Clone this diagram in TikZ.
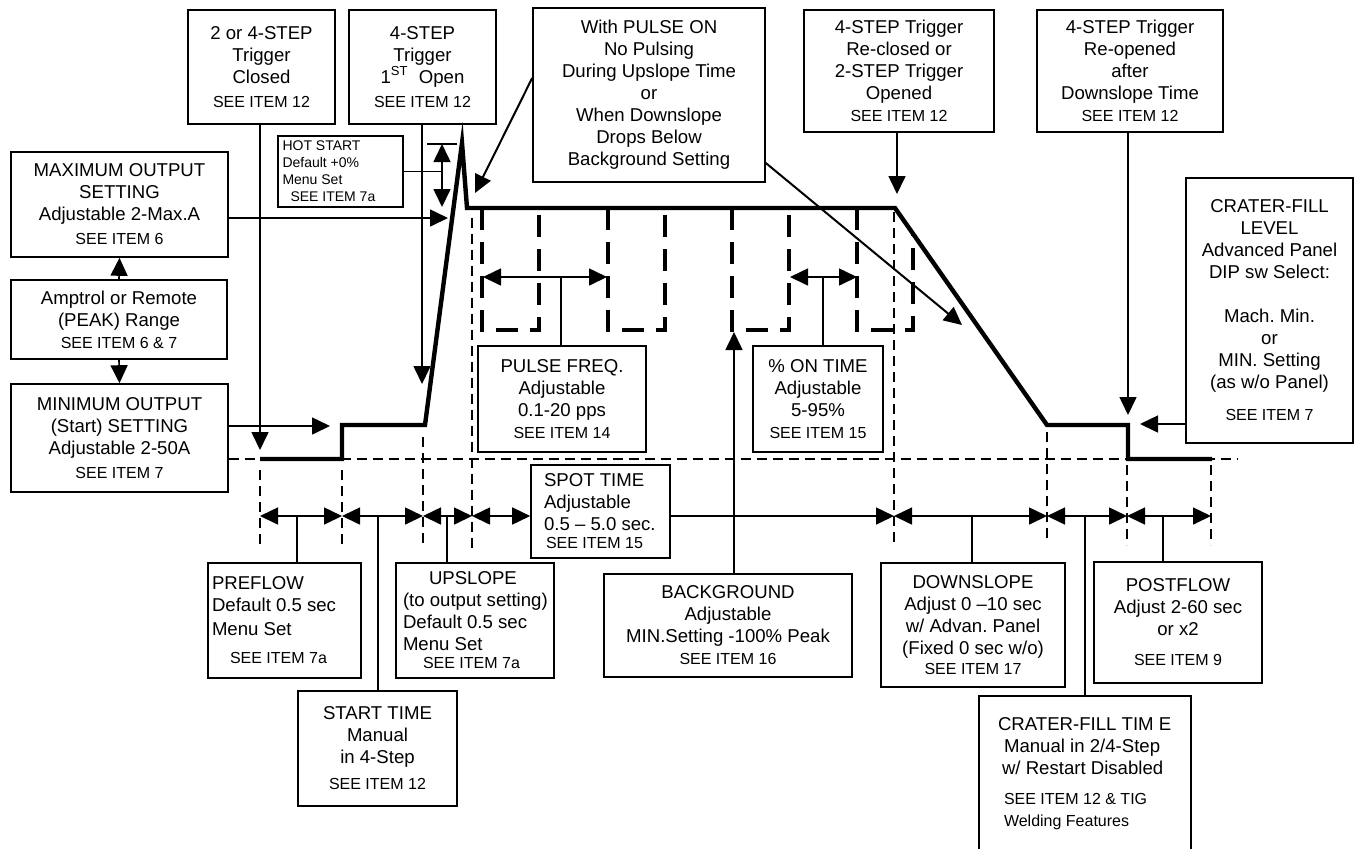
\documentclass[tikz,border=0pt]{standalone}
\usepackage{fontspec}
\setmainfont{Liberation Sans}
\usetikzlibrary{arrows.meta, calc}
\frenchspacing
\newcommand\seeitem[1]{{\fontsize{8}{9.5}\selectfont SEE ITEM #1}}
\tikzset{
  every picture/.style={line width=0.8pt},
  lbl/.style 2 args={draw, minimum width=#1, minimum height=#2, inner sep=2pt, align=center, font=\fontsize{9.3}{11}\selectfont},
  arr/.style={-{Triangle[length=9pt, width=8.5pt]}},
  darr/.style={{Triangle[length=9pt, width=8.5pt]}-{Triangle[length=9pt, width=8.5pt]}},
  wave/.style={line width=2.2pt},
  pulse/.style={line width=1.8pt, dash pattern=on 11pt off 6pt},
  guide/.style={line width=0.6pt, dash pattern=on 5pt off 3pt},
}

\begin{document}
\begin{tikzpicture}[x=0.5pt, y=-0.5pt]
  \useasboundingbox (0,0) rectangle (1354,848);
  % boxes along the top and the left
  \node[lbl={73.5pt}{57pt}] (trigA) at (261.5,67) {2 or 4-STEP\\Trigger\\Closed\\[1pt]\seeitem{12}};
  \node[lbl={73.5pt}{57pt}] (trigB) at (422.5,67) {4-STEP\\Trigger\\1\textsuperscript{ST}\ \ Open\\[1pt]\seeitem{12}};
  \node[lbl={62.5pt}{35.5pt}, align=flush left, text width=58pt, font=\fontsize{7}{8.5}\selectfont] (hot) at (340.5,171.5) {HOT START\\Default +0\%\\Menu Set\\\hspace*{4pt}SEE ITEM 7a};
  \node[lbl={116pt}{87pt}] (pulseon) at (649,95) {With PULSE ON\\No Pulsing\\During Upslope Time\\or\\When Downslope\\Drops Below\\Background Setting};
  \node[lbl={95pt}{61pt}] (trigC) at (899,71) {4-STEP Trigger\\Re-closed or\\2-STEP Trigger\\Opened\\\seeitem{12}};
  \node[lbl={93pt}{61pt}] (trigD) at (1130,71) {4-STEP Trigger\\Re-opened\\after\\Downslope Time\\\seeitem{12}};
  \node[lbl={108.5pt}{52.5pt}] (maxout) at (119.5,204.5) {MAXIMUM OUTPUT\\SETTING\\Adjustable 2-Max.A\\[1pt]\seeitem{6}};
  \node[lbl={108pt}{39.5pt}] (amptrol) at (119,319.5) {Amptrol or Remote\\(PEAK) Range\\\seeitem{6 \& 7}};
  \node[lbl={108.5pt}{54pt}] (minout) at (119.5,438) {MINIMUM OUTPUT\\(Start) SETTING\\Adjustable 2-50A\\[1pt]\seeitem{7}};
  \node[lbl={83.5pt}{132.5pt}] (crlevel) at (1269.5,310.5) {CRATER-FILL\\LEVEL\\Advanced Panel\\DIP sw Select:\\[11pt]Mach. Min.\\or\\MIN. Setting\\(as w/o Panel)\\[5pt]\seeitem{7}};
  \node[lbl={84pt}{53pt}] (pfreq) at (562,399) {PULSE FREQ.\\Adjustable\\0.1-20 pps\\\seeitem{14}};
  \node[lbl={65pt}{53pt}] (ontime) at (818,399) {\% ON TIME\\Adjustable\\5-95\%\\\seeitem{15}};
  % boxes below the time line
  \node[lbl={69.5pt}{46.5pt}, align=flush left, inner xsep=6.5pt, text width=56.5pt] (spot) at (600.5,511.5) {SPOT TIME\\Adjustable\\\mbox{0.5 – 5.0 sec.}\\[-2pt]\hspace*{1pt}\seeitem{15}};
  \node[lbl={76.5pt}{57.5pt}, align=flush left, text width=72.5pt] (preflow) at (284.5,620.5) {PREFLOW\\Default 0.5 sec\\[1pt]Menu Set\\[3pt]\hspace*{9pt}\seeitem{7a}};
  \node[lbl={79.5pt}{57.5pt}] (starttime) at (377.5,748.5) {START TIME\\Manual\\in 4-Step\\[2pt]\seeitem{12}};
  \node[lbl={79pt}{57.5pt}, align=flush left, inner xsep=3.5pt, text width=72pt] (upslope) at (475,620.5) {\hspace*{13pt}UPSLOPE\\\mbox{(to output setting)}\\Default 0.5 sec\\Menu Set\\[-2pt]\hspace*{10pt}\seeitem{7a}};
  \node[lbl={124pt}{51.5pt}] (bground) at (728,625.5) {BACKGROUND\\Adjustable\\MIN.Setting -100\% Peak\\\seeitem{16}};
  \node[lbl={92pt}{62pt}] (downslope) at (973,625) {DOWNSLOPE\\Adjust 0 –10 sec\\w/ Advan. Panel\\(Fixed 0 sec w/o)\\[-1pt]\seeitem{17}};
  \node[lbl={106pt}{78pt}, align=flush left, inner xsep=9.5pt, text width=87pt] (crtime) at (1085,774) {\mbox{CRATER-FILL TIM E}\\\hspace*{3pt}Manual in 2/4-Step\\\hspace*{2pt}\mbox{w/ Restart Disabled}\\[4pt]\hspace*{3pt}\seeitem{12 \& TIG}\\\hspace*{3pt}{\fontsize{8}{9.5}\selectfont Welding Features}\\[12pt]};
  \node[lbl={84pt}{60.5pt}] (postflow) at (1178,622.5) {POSTFLOW\\Adjust 2-60 sec\\or x2\\[4pt]\seeitem{9}};

  % points of the output curve
  \coordinate (w0) at (260,459);
  \coordinate (w1) at (342,459);
  \coordinate (w2) at (342,425);
  \coordinate (w3) at (425,425);
  \coordinate (pk) at (462,143);
  \coordinate (w4) at (467,208);
  \coordinate (w5) at (895,208);
  \coordinate (w6) at (1047,425);
  \coordinate (w7) at (1128,425);
  \coordinate (w8) at (1128,459);
  \coordinate (w9) at (1212,459);
  \coordinate (gE) at (1238,459);

  % guide lines
  \draw[guide] (minout.east |- w0) -- (gE);
  \foreach \x/\t/\b in {260/470/548, 342/470/548, 423/437/548, 472/218/548, 894/212/545, 1047/432/540, 1127/465/545, 1211/465/545}
    \draw[guide] (\x,\t) -- (\x,\b);

  % pulses
  \foreach \a/\b in {482/539, 608/665, 732/789}
    \draw[pulse] (\a,208) -- (\a,330) -- (\b,330) -- (\b,208);
  \draw[pulse] (857,208) -- (857,330) -- (913,330) -- (913,234);

  \draw[wave] (w0) -- (w1) -- (w2) -- (w3) -- (pk) -- (w4) -- (w5) -- (w6) -- (w7) -- (w8) -- (w9);

  % arrows from the boxes to the curve
  \coordinate (tA) at (260,450);
  \coordinate (tB) at (422,384);
  \coordinate (tC) at (897,194);
  \coordinate (tD) at (1128,415);
  \coordinate (tMax) at (448,218);
  \coordinate (tMin) at (330,426);
  \coordinate (tCL) at (1140,424);
  \coordinate (tP1) at (475,193);
  \coordinate (tP2) at (962,325);
  \draw[arr] (trigA.south -| tA) -- (tA);
  \draw[arr] (trigB.south -| tB) -- (tB);
  \draw[arr] (trigC.south -| tC) -- (tC);
  \draw[arr] (trigD.south -| tD) -- (tD);
  \draw[arr] (maxout.east |- tMax) -- (tMax);
  \draw[arr] (minout.east |- tMin) -- (tMin);
  \draw[arr] (amptrol.north) -- (maxout.south);
  \draw[arr] (amptrol.south) -- (minout.north);
  \draw[arr] (crlevel.west |- tCL) -- (tCL);
  \draw[arr, line width=1pt] ([yshift=8.5pt]pulseon.west) -- (tP1);
  \draw[arr, line width=1pt] ([yshift=-34pt]pulseon.east) -- (tP2);

  % hot start
  \coordinate (hb) at (442,144);
  \coordinate (hbot) at (442,207);
  \draw[darr] (hb) -- (hbot);
  \draw ([xshift=-7.5pt]hb) -- ([xshift=7.5pt]hb);
  \draw (hot.east) -- (hot.east -| hb);

  % pulse width arrows
  \coordinate (pfa) at (483,277);
  \coordinate (pfb) at (607,277);
  \coordinate (pfc) at (561,277);
  \coordinate (ota) at (790,277);
  \coordinate (otb) at (857,277);
  \coordinate (otc) at (823,277);
  \draw[darr] (pfa) -- (pfb);
  \draw[darr] (ota) -- (otb);
  \draw (pfc) -- (pfc |- pfreq.north);
  \draw (otc) -- (otc |- ontime.north);
  \coordinate (bgt) at (734,332);
  \draw[arr] (bgt |- bground.north) -- (bgt);

  % time line
  \foreach \n/\x in {0/260, 1/342, 2/423, 3/472, 4/894, 5/1047, 6/1127, 7/1211}
    \coordinate (d\n) at (\x,516);
  \draw[darr] (d0) -- (d1);
  \draw[darr] (d1) -- (d2);
  \draw[darr] (d2) -- (d3);
  \draw[darr] (d3) -- (d3 -| spot.west);
  \draw[arr] (d3 -| spot.east) -- (d4);
  \draw[darr] (d4) -- (d5);
  \draw[darr] (d5) -- (d6);
  \draw[darr] (d6) -- (d7);
  \coordinate (cpre) at (297,516);
  \coordinate (cst) at (378,516);
  \coordinate (cup) at (447,516);
  \coordinate (cdn) at (972,516);
  \coordinate (ccr) at (1085,516);
  \coordinate (cpo) at (1163,516);
  \draw (cpre) -- (cpre |- preflow.north);
  \draw (cst) -- (cst |- starttime.north);
  \draw (cup) -- (cup |- upslope.north);
  \draw (cdn) -- (cdn |- downslope.north);
  \draw (ccr) -- (ccr |- crtime.north);
  \draw (cpo) -- (cpo |- postflow.north);
\end{tikzpicture}
\end{document}
